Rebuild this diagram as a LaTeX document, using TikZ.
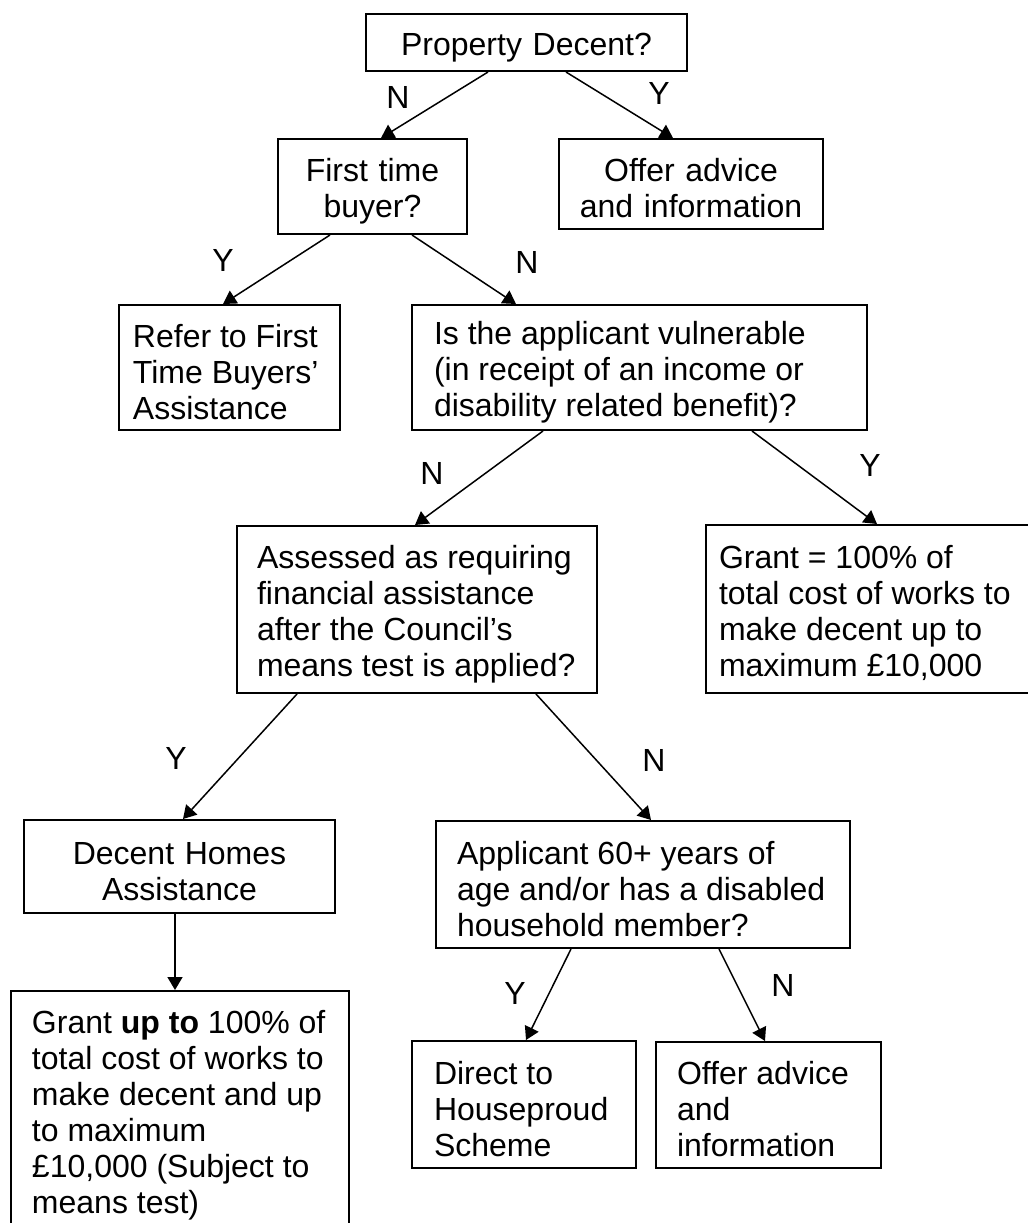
\documentclass[tikz,border=0pt]{standalone}
\usepackage{fontspec}
\setmainfont{Liberation Sans}
\usetikzlibrary{arrows.meta, positioning}

\begin{document}
\begin{tikzpicture}[x=0.5pt,y=-0.5pt,
    font=\fontsize{16}{18}\selectfont,
    >={Triangle[length=6.5pt,width=7.5pt]},
    box/.style={draw,line width=1pt,inner ysep=0pt,
      execute at begin node={\rule{0pt}{16pt}}},
    cbox/.style={box,align=center,inner xsep=6pt},
    lbox/.style={box,align=flush left},
    arr/.style={->,line width=0.75pt}]
    \useasboundingbox (0,0) rectangle (1028,1223);
    \clip (0,0) rectangle (1028,1223);
       \node[cbox,text width=148.5pt,minimum height=28.5pt] (pd) at (526.5,42.5) {Property Decent?};
       \node[cbox,text width=82.5pt,minimum height=47.5pt] (ftb) at (372.5,186.5) {First time\\buyer?};
       \node[cbox,text width=120pt,minimum height=45pt] (offa) at (691,184) {Offer advice\\and information};
       \node[lbox,text width=96.5pt,inner xsep=7pt,minimum height=62.5pt] (refer) at (229.5,367.5) {Refer to First\\Time Buyers’\\Assistance};
       \node[lbox,text width=205.5pt,inner xsep=11pt,minimum height=62.5pt] (vuln) at (639.5,367.5) {Is the applicant vulnerable\\(in receipt of an income or\\disability related benefit)?};
       \node[lbox,text width=160pt,inner xsep=10pt,minimum height=83.5pt] (assess) at (417,609.5) {Assessed as requiring\\financial assistance\\after the Council’s\\means test is applied?};
       \node[lbox,text width=150pt,inner xsep=6.5pt,minimum height=84pt] (grant) at (869,609) {Grant = 100\% of\\total cost of works to\\make decent up to\\maximum £10,000};
       \node[cbox,text width=143.5pt,minimum height=46.5pt] (dh) at (179.5,866.5) {Decent Homes\\Assistance};
       \node[lbox,text width=186pt,inner xsep=10.5pt,minimum height=63.5pt] (appl) at (643,884.5) {Applicant 60+ years of\\age and/or has a disabled\\household member?};
       \node[lbox,text width=148pt,inner xsep=10.5pt,minimum height=119.5pt] (grantup) at (180,1110.5) {Grant \textbf{up to} 100\% of\\total cost of works to\\make decent and up\\to maximum\\£10,000 (Subject to\\means test)};
       \node[lbox,text width=90pt,inner xsep=11pt,minimum height=63.5pt] (direct) at (524,1104.5) {Direct to\\Houseproud\\Scheme};
       \node[lbox,text width=91.5pt,inner xsep=10.5pt,minimum height=63pt] (offb) at (768.5,1105) {Offer advice\\and\\information};
       \node (n_1) at (398,97) {N};
       \node (y_1) at (659,93) {Y};
       \node (y_2) at (223,260) {Y};
       \node (n_2) at (527,262) {N};
       \node (n_3) at (432,473) {N};
       \node (y_3) at (870,465) {Y};
       \node (y_4) at (176,758) {Y};
       \node (n_4) at (654,760) {N};
       \node (y_5) at (515,993) {Y};
       \node (n_5) at (783,985) {N};
        \path[arr]
        ([xshift=-19.25pt]pd.south) edge ([xshift=4.25pt]ftb.north)
        ([xshift=19.75pt]pd.south) edge ([xshift=-9pt]offa.north)
        ([xshift=-21.25pt]ftb.south) edge ([xshift=-3.25pt]refer.north)
        ([xshift=19.75pt]ftb.south) edge ([xshift=-61.75pt]vuln.north)
        ([xshift=-48.25pt]vuln.south) edge ([xshift=-1pt]assess.north)
        ([xshift=56.25pt]vuln.south) edge ([xshift=4pt]grant.north)
        ([xshift=-60pt]assess.south) edge ([xshift=1.75pt]dh.north)
        ([xshift=59.5pt]assess.south) edge ([xshift=4pt]appl.north)
        ([xshift=-2.25pt]dh.south) edge ([xshift=-2.25pt]dh.south |- grantup.north)
        ([xshift=-36pt]appl.south) edge ([xshift=1pt]direct.north)
        ([xshift=38pt]appl.south) edge ([xshift=-1.75pt]offb.north);
    \end{tikzpicture}
\end{document}
